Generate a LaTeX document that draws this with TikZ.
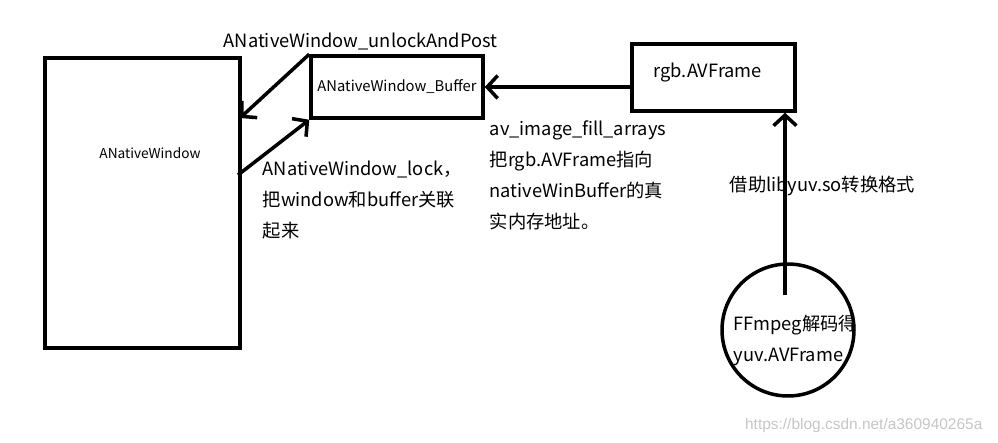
\documentclass[tikz,border=0pt]{standalone}
\usepackage{fontspec}
\setmainfont{Noto Sans CJK SC}
\newfontfamily\markfont{Liberation Sans}
\usepackage{tikz}
\usetikzlibrary{arrows.meta, shapes.geometric}

\begin{document}
\begin{tikzpicture}[x=0.02cm, y=-0.02cm, line width=2pt,
  >={Straight Barb[length=6pt,width=13pt,line width=2pt]}]

% Stili
\tikzset{box/.style={draw, rectangle, inner sep=0pt},
         lbl/.style={anchor=north west, inner sep=0pt, align=left,
                     font=\fontsize{10.4pt}{17.6pt}\selectfont}}

\useasboundingbox (0,0) rectangle (998,443);

% --- Blocchi ---
\node[box, minimum width=3.9cm, minimum height=5.8cm] (win) at (142.5,203) {};
\node[font=\fontsize{7.8pt}{9pt}\selectfont] (winlbl) at (150,153) {ANativeWindow};
\node[box, minimum width=3.44cm, minimum height=1.24cm,
      font=\fontsize{8.4pt}{9pt}\selectfont] (buf) at (397,87) {ANativeWindow\_Buffer};
\node[box, minimum width=3.26cm, minimum height=1.34cm] (rgb) at (713.5,77.5) {};
\node[font=\fontsize{10.4pt}{12pt}\selectfont, anchor=west] (rgblbl) at (646,73) {rgb.AVFrame};
\node[draw, circle, minimum size=2.64cm, inner sep=0pt] (yuv) at (788,330) {};

% Punti liberi
\coordinate (winA) at (240,118);
\coordinate (winB) at (238,175);
\coordinate (yuvtop) at (785,295);

% --- Frecce ---
\draw[->] (buf.north west) -- (winA);
\draw[->] (winB) -- (buf.south west);
\draw[->] (rgb.west |- buf.east) -- (buf.east);
\draw[->] (yuvtop) -- (yuvtop |- rgb.south);

% --- Testi ---
\node[lbl] (unlock) at (222,31) {ANativeWindow\_unlockAndPost};
\node[lbl] (lock) at (261,159) {ANativeWindow\_lock，\\把window和buffer关联\\起来};
\node[lbl] (fill) at (488,119) {av\_image\_fill\_arrays\\把rgb.AVFrame指向\\nativeWinBuffer的真\\实内存地址。};
\node[lbl] (conv) at (728,174) {借助libyuv.so转换格式};
\node[lbl] (ffm) at (732,313) {FFmpeg解码得\\yuv.AVFrame};

% Filigrana
\node[anchor=east, text=gray!45, font=\markfont\fontsize{8.8pt}{10pt}\selectfont] (mark) at (990,425) {https://blog.csdn.net/a360940265a};

\end{tikzpicture}
\end{document}
